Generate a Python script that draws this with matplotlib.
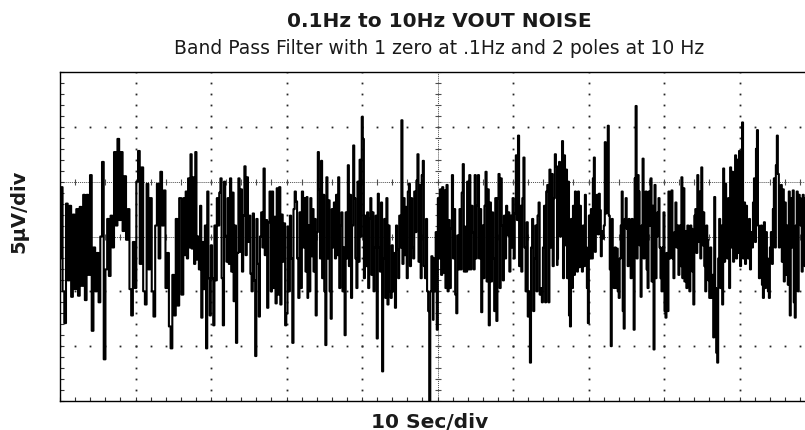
import numpy as np
import matplotlib.pyplot as plt

plt.rcParams['font.family'] = ['DejaVu Sans']

title = '0.1Hz to 10Hz VOUT NOISE'
subtitle = 'Band Pass Filter with 1 zero at .1Hz and 2 poles at 10 Hz'
x_label = '10 Sec/div'
y_label = '5µV/div'

# scope trace in µV in six pieces; time span of each piece in s
seg_spans = [(0.0, 15.9), (16.25, 32.75), (32.8, 49.4), (49.4, 65.9), (65.9, 82.5), (82.5, 98.7)]
seg1 = [-2.0, 4.5, -5.0, -7.9, 3.0, -4.0, 2.8, -5.5, 2.0, -4.8, 2.5, -5.4, 2.7, -4.5, 3.8, -5.8,
        3.8, -3.5, 5.6, -8.6, -1.0, -5.0, -1.5, -6.0, 0.0, 6.8, -11.2, -3.0, 1.6, -3.6, 1.9, -1.0,
        7.7, 1.0, 8.9, 1.5, 7.7, 0.5, 5.5, -0.3, 2.5, -4.8, -7.2, -0.5, -4.7, 5.0, 7.8, -2.5,
        6.3, -5.0, -6.2, 4.8, -3.0, 3.5, -5.0, -7.3, 1.0, 4.8, -2.0, 5.9, 1.0, 4.2, -4.7, -1.5,
        -8.2, -10.2, -3.5, -7.2, 1.6, -6.3, 3.5]
seg2 = [-5.3, 3.5, -1.7, 4.1, -2.0, 5.3, -1.0, 7.5, -1.1, 5.4, -2.5, 7.7, -2.1, 0.0, -3.0, 2.8,
        -7.4, -0.5, -4.8, 1.0, -10.2, 4.1, -3.8, -7.2, -0.8, -3.8, -8.1, 1.0, -4.0, 3.5, 1.0, 4.0,
        5.3, -3.8, -8.1, 5.0, 0.0, -2.3, 3.5, -2.5, 5.3, -3.2, 4.0, -5.9, 1.0, -9.7, -1.5, 5.3,
        -1.4, 4.3, -3.2, 1.9, 6.4, -1.7, 5.4, -0.5, 1.9, -3.4, -5.0, 2.1, -4.0, -10.9, 1.6, -2.5,
        -7.3, 0.0, 2.2, -1.0, 6.2, -1.7, 1.5, -6.5, 1.3, 4.1, -5.0, 4.1, -4.7, 1.8, -6.1, 4.4,
        -5.3, 4.5, -6.2, 2.0, -2.3, 1.2, -8.1, -7.0, 0.9, -5.0, 1.9, -2.0, -9.7, 2.5, 4.1, 3.2,
        -2.0, -5.6, 2.2, -4.7, 4.1, -1.0, 3.5, -3.2, 3.6]
seg3 = [-5.6, 1.0, -5.0, 3.5, -1.8, 2.5, -3.2, 1.6, -7.2, 0.4, 7.7, 4.3, -2.0, 6.9, -3.8, 3.8,
        -5.0, -9.9, 5.4, -2.0, 3.3, -5.0, -7.5, 2.5, -1.0, 3.1, -2.0, 3.8, -1.7, 5.4, -4.7, 1.0,
        2.2, -5.0, -1.0, -9.0, 2.2, -2.0, 6.5, -2.7, 3.8, -5.6, 1.0, 8.3, 3.5, -2.0, -4.7, 5.0,
        -2.3, 7.0, 0.0, 10.9, 8.9, -3.8, 1.9, -2.7, 2.2, -4.7, 1.6, 3.5, -3.5, 2.2, -5.0, -1.0,
        1.9, -9.3, 3.9, -1.0, -3.2, 3.1, -12.3, -2.0, 1.6, -5.6, 3.5, -6.2, 1.0, -5.0, -5.6, -0.8,
        -5.0, -1.5, -6.5, 1.0, -1.2, -3.8, 1.9, -1.0, 10.6, -2.5, 3.5, -1.7, 2.7, -3.8, 4.1, 4.8,
        -2.7, 3.5, -1.0, -2.0, 4.1, 0.4, 5.1, 7.5, -2.3, 4.7, -3.8, 5.6, 6.9, -2.7, -3.8, 1.6,
        -5.0, -6.8, -15.5, -5.0, -1.8, -2.1]
seg4 = [-7.6, -2.0, -5.0, 0.4, -8.5, 3.5, -2.0, 4.3, -3.5, 4.5, -3.3, 4.2, -4.7, 4.7, -5.0, 1.5,
        -4.7, 0.7, 5.6, -2.0, 2.5, -5.3, -7.0, 0.1, -3.0, 2.5, -3.0, 4.0, 6.6, -3.2, 0.9, -3.2,
        5.0, -3.0, 5.6, -3.0, 2.8, 0.4, -3.0, 5.6, -2.0, 2.8, 5.6, -2.0, 2.5, -6.9, 1.0, -3.8,
        2.8, 5.9, -4.1, 4.3, -8.1, 3.1, -4.1, 2.2, -2.0, -6.8, 3.5, -7.7, 3.5, 5.7, -4.7, 5.3,
        1.0, -4.0, 1.9, -2.0, 2.8, 0.1, 2.2, -3.2, 1.9, -1.0, 3.5, -2.0, 2.1, 7.4, 1.5, 9.2,
        -2.7, 2.8, -3.2, 3.5, 7.2, -1.0, -5.0, 1.3, -7.3, -5.0, -11.5, -1.0, 1.6, -6.8, -2.0, 1.0,
        -5.0, 1.9, 3.1, -5.3, -4.7, -6.0, -1.0, 2.8, -6.0, 4.1, 4.7, -6.0, 6.1, -1.0, 5.7, -2.7,
        3.5, 7.5, 6.4, -2.6]
seg5 = [-2.0, 3.9, 6.8, 0.0, 4.5, 8.7, -3.8, 7.4, -0.8, 6.1, -3.8, 5.0, -7.2, -8.2, 1.6, -4.7,
        2.8, -3.5, 4.1, -0.5, -3.2, 4.1, -2.8, 2.8, -1.0, -3.2, 1.0, -2.7, 3.8, -1.0, -4.7, -7.9,
        1.9, -2.0, 2.5, -2.0, 5.3, 7.2, -1.4, 1.0, 3.8, 0.2, 3.9, 2.4, -1.8, 0.5, -0.2, 1.0,
        8.6, 2.1, 8.5, 10.1, 1.9, -3.0, -10.0, 1.6, -3.8, -4.7, -1.0, -4.7, -1.1, -5.0, -5.6, -2.0,
        1.0, 4.1, -6.8, -8.4, 1.6, 3.5, 0.7, -2.7, 1.6, -2.0, -3.8, 1.6, -3.0, -8.5, 5.3, 11.9,
        -2.0, 5.6, 4.1, -0.8, -5.5, 1.0, 7.1, -2.0, 3.1, 4.1, -3.0, -4.7, 4.1, 1.0, 5.3, -4.1,
        2.8, -10.3, 4.7, -3.8, 0.0, 2.2, 3.5, -1.0, -3.8, -5.0, -1.0, 2.2, -6.8, -7.4, -1.5, -6.8,
        4.1, -2.0, 1.9, 4.2, -2.0, -3.8, 0.4, 3.1, -1.0, 1.0, -3.5, 1.0, -2.7, 5.4, -3.8]
seg6 = [-2.7, 4.4, -4.1, 0.5, -4.7, 1.0, -0.8, -5.0, 1.0, 0.7, -3.2, -6.2, 1.9, 2.5, -1.5, 5.6,
        -0.5, 4.1, -2.0, 6.3, -0.8, 2.2, -2.7, -5.0, 1.0, -0.3, -4.0, -5.6, -1.0, -5.6, -3.5, -9.2,
        3.6, -4.7, -10.6, -11.5, -2.0, 1.6, -4.7, 1.0, -6.2, 6.2, -2.3, 4.8, 1.6, -2.0, 3.5, -4.7,
        6.3, -1.0, 5.9, -2.3, 1.0, 7.4, -2.0, 7.0, -1.5, 7.8, -2.7, 1.0, 10.4, -2.0, 3.1, -2.5,
        2.8, -1.0, -2.0, 1.6, -3.0, 0.4, -1.0, 3.1, 5.3, -0.5, 8.0, 9.7, 1.0, -3.8, 0.5, 1.0,
        -4.4, -5.6, 1.3, -4.7, 0.4, -2.0, -5.0, -5.6, -1.0, 0.4, -2.5, 2.5, 5.3, -1.0, 6.5, 9.2,
        5.7, -1.0, -0.5, 4.7, -2.3, 4.3, -4.1, 3.1, -3.5, 1.0, -4.4, 4.1, -7.2, 3.5, -1.0, 4.2,
        -6.0, -7.4, 1.0, 4.1, -5.0, 3.8, 3.5, 1.0, -3.2, 3.8, 3.5, -2.7]
segments = [seg1, seg2, seg3, seg4, seg5, seg6]

t_all = []
v_all = []
for (t0, t1), seg in zip(seg_spans, segments):
    t_all.append(np.linspace(t0, t1, len(seg)))
    v_all.append(np.array(seg))
t_all = np.concatenate(t_all)
v_all = np.concatenate(v_all)

W, H = 805, 431
fig = plt.figure(figsize=(W / 100, H / 100), dpi=100)
# the scope screen runs past the right edge of the picture
ax = fig.add_axes([60 / W, (H - 402) / H, (815 - 60) / W, (402 - 73) / H])
ax.set_xlim(0, 100)
ax.set_ylim(-15, 15)

x_minor = np.arange(0, 100.1, 2)
y_minor = np.arange(-15, 15.1, 1)

# dotted graticule
for gx in [10, 20, 30, 40, 60, 70, 80, 90]:
    ax.plot(np.full(len(y_minor), gx), y_minor, ls='none', marker='s', ms=1.3,
            mew=0, color='0.15', zorder=1)
for gy in [-10, -5, 10]:
    ax.plot(x_minor, np.full(len(x_minor), gy), ls='none', marker='s', ms=1.3,
            mew=0, color='0.15', zorder=1)

# centre lines with their small ticks
ax.axvline(50, ls=(0, (1, 1)), lw=0.7, color='0.3', zorder=1)
ax.plot(np.full(len(y_minor), 50), y_minor, ls='none', marker='_', ms=5, mew=0.8,
        color='0.3', zorder=1)
for gy in [0, 5]:
    ax.axhline(gy, ls=(0, (1, 1)), lw=0.7, color='0.3', zorder=1)
    ax.plot(x_minor, np.full(len(x_minor), gy), ls='none', marker='|', ms=5, mew=0.8,
            color='0.3', zorder=1)

# the scope draws each sample as a vertical stroke
ax.plot(t_all, v_all, color='black', lw=1.5, drawstyle='steps-mid', zorder=3)

ax.set_xticks(np.arange(0, 101, 10))
ax.set_xticks(x_minor, minor=True)
ax.set_yticks(np.arange(-15, 16, 5))
ax.set_yticks(y_minor, minor=True)
ax.tick_params(which='both', direction='in', length=3, width=0.8, color='0.2',
               labelbottom=False, labelleft=False, top=False, right=False)
for s in ax.spines.values():
    s.set_linewidth(1.0)

fig.text(439 / W, 1 - 27 / H, title, ha='center', va='baseline', fontsize=14.5,
         fontweight='bold', color='#1a1a1a')
fig.text(439 / W, 1 - 54 / H, subtitle, ha='center', va='baseline', fontsize=13.5,
         color='#1a1a1a')
fig.text(19 / W, 1 - 211 / H, y_label, ha='center', va='center', rotation=90, fontsize=14,
         fontweight='bold', color='#1a1a1a')
fig.text(430 / W, 1 - 428 / H, x_label, ha='center', va='baseline', fontsize=14.5,
         fontweight='bold', color='#1a1a1a')

fig.savefig('out.png', dpi=100)
